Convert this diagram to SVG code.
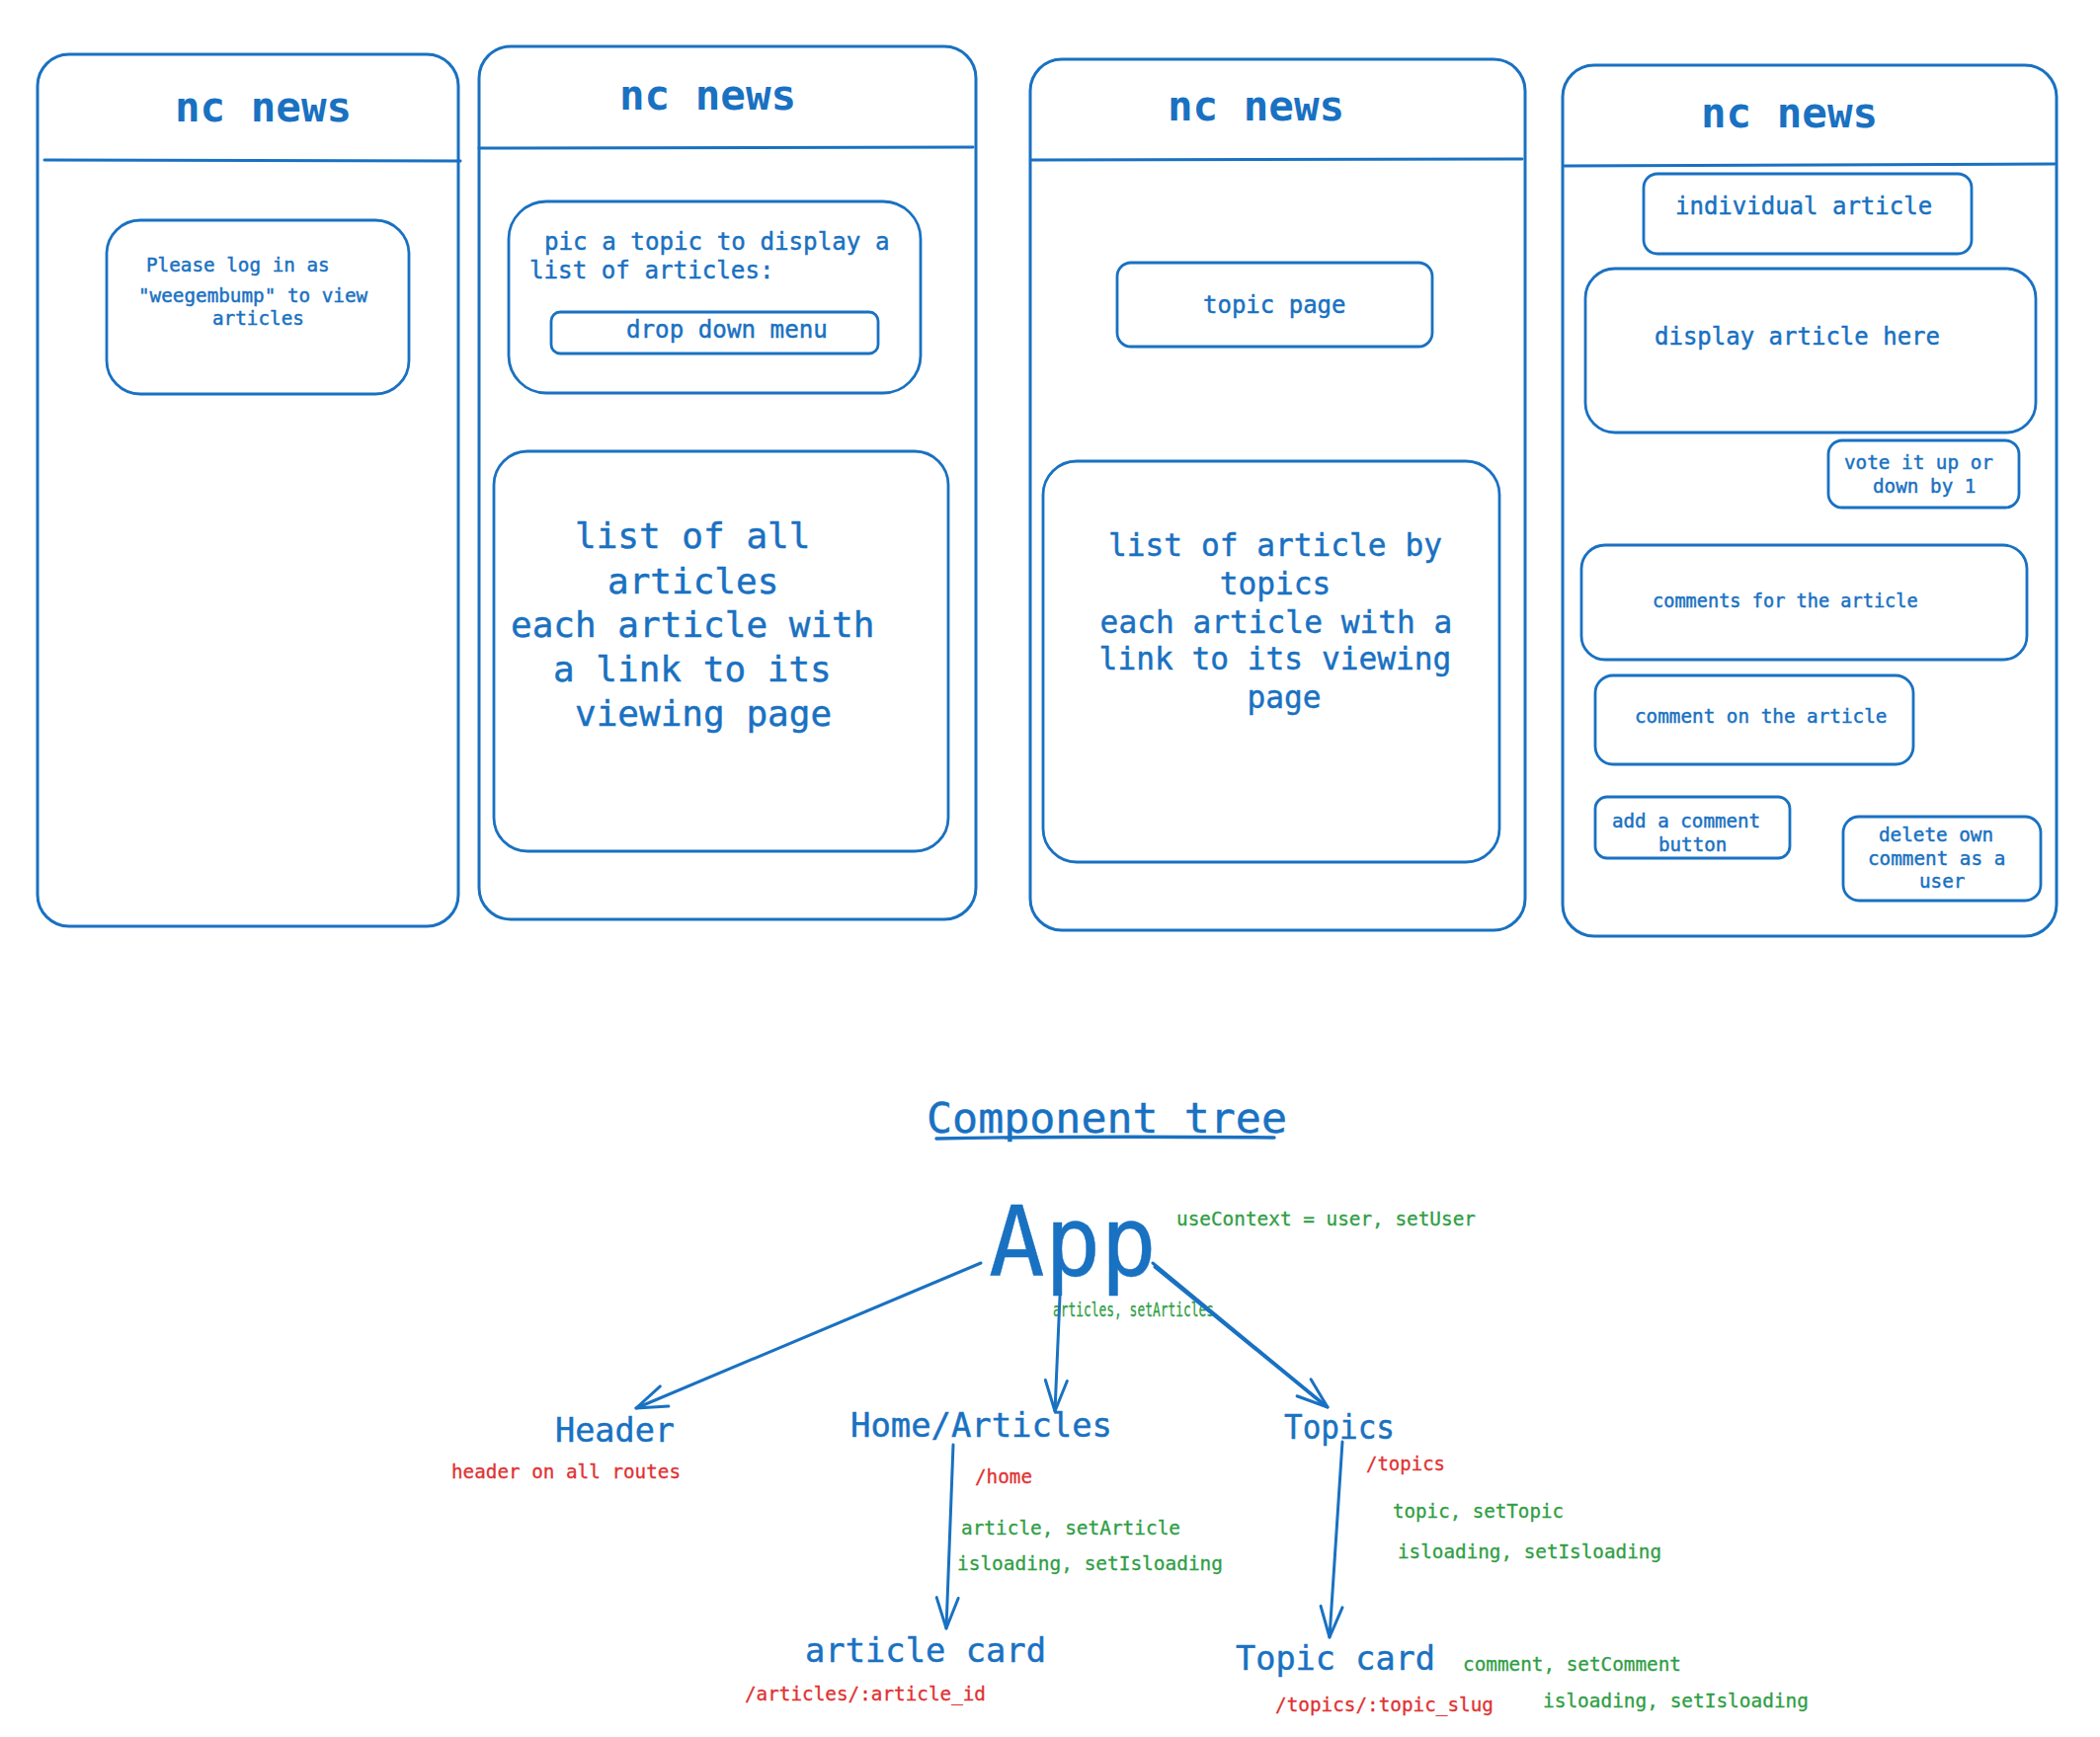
<svg xmlns="http://www.w3.org/2000/svg" width="2126" height="1759" viewBox="0 0 2126 1759">
<style>
.frame{fill:none;stroke:#1971c2;stroke-width:3;stroke-linecap:round;stroke-linejoin:round}
.box{fill:none;stroke:#1971c2;stroke-width:2.8;stroke-linecap:round;stroke-linejoin:round}
.t{font-family:"DejaVu Sans Mono","Liberation Mono",monospace;fill:#1971c2;stroke:#1971c2;stroke-width:0.45}
.title{font-family:"DejaVu Sans Mono","Liberation Mono",monospace;fill:#1971c2;font-size:42.5px;font-weight:bold}
.g{font-family:"DejaVu Sans Mono","Liberation Mono",monospace;fill:#2f9e44;font-size:19.3px;stroke:#2f9e44;stroke-width:0.3}
.r{font-family:"DejaVu Sans Mono","Liberation Mono",monospace;fill:#e03131;font-size:19.3px;stroke:#e03131;stroke-width:0.3}
.edge{fill:none;stroke:#1971c2;stroke-width:3;stroke-linecap:round}
</style>
<defs>
<marker id="arr" viewBox="-34 -14 38 28" refX="0" refY="0" markerWidth="38" markerHeight="28" markerUnits="userSpaceOnUse" orient="auto">
<path d="M-31,-11 L0,0 L-31,11" fill="none" stroke="#1971c2" stroke-width="3" stroke-linecap="round" stroke-linejoin="round"/>
</marker>
</defs>
<rect width="2126" height="1759" fill="#ffffff"/>

<g id="phone-login">
<rect class="frame" x="38" y="55" width="426" height="883" rx="32"/>
<path class="frame" d="M45,162 L466,163"/>
<text class="title" x="177" y="123">nc news</text>
<rect class="box" x="108" y="223" width="306" height="176" rx="34"/>
<text class="t" font-size="19.3" x="148" y="275">Please log in as</text>
<text class="t" font-size="19.3" x="140" y="306">"weegembump" to view</text>
<text class="t" font-size="19.3" x="215" y="329">articles</text>
</g>

<g id="phone-home">
<rect class="frame" x="485" y="47" width="503" height="884" rx="32"/>
<path class="frame" d="M485,150 L985,149"/>
<text class="title" x="627" y="111">nc news</text>
<rect class="box" x="515" y="204" width="417" height="194" rx="38"/>
<text class="t" font-size="24.2" x="551" y="253">pic a topic to display a</text>
<text class="t" font-size="24.2" x="536" y="282">list of articles:</text>
<rect class="box" x="558" y="316" width="331" height="42" rx="9"/>
<text class="t" font-size="24.2" x="634" y="342">drop down menu</text>
<rect class="box" x="500" y="457" width="460" height="405" rx="34"/>
<text class="t" font-size="36" x="582" y="555">list of all</text>
<text class="t" font-size="36" x="615" y="601">articles</text>
<text class="t" font-size="36" x="517" y="645">each article with</text>
<text class="t" font-size="36" x="560" y="690">a link to its</text>
<text class="t" font-size="36" x="582" y="735">viewing page</text>
</g>

<g id="phone-topics">
<rect class="frame" x="1043" y="60" width="501" height="882" rx="32"/>
<path class="frame" d="M1044,162 L1541,161"/>
<text class="title" x="1182" y="122">nc news</text>
<rect class="box" x="1131" y="266" width="319" height="85" rx="14"/>
<text class="t" font-size="24" x="1218" y="317">topic page</text>
<rect class="box" x="1056" y="467" width="462" height="406" rx="34"/>
<text class="t" font-size="31.2" text-anchor="middle" x="1291" y="563">list of article by</text>
<text class="t" font-size="31.2" text-anchor="middle" x="1291" y="602">topics</text>
<text class="t" font-size="31.2" text-anchor="middle" x="1292" y="641">each article with a</text>
<text class="t" font-size="31.2" text-anchor="middle" x="1291" y="678">link to its viewing</text>
<text class="t" font-size="31.2" text-anchor="middle" x="1300" y="717">page</text>
</g>

<g id="phone-article">
<rect class="frame" x="1582" y="66" width="500" height="882" rx="32"/>
<path class="frame" d="M1584,168 L2080,166"/>
<text class="title" x="1722" y="129">nc news</text>
<rect class="box" x="1664" y="176" width="332" height="81" rx="14"/>
<text class="t" font-size="24" x="1696" y="217">individual article</text>
<rect class="box" x="1605" y="272" width="456" height="166" rx="30"/>
<text class="t" font-size="24" x="1675" y="349">display article here</text>
<rect class="box" x="1851" y="446" width="193" height="68" rx="14"/>
<text class="t" font-size="19.3" x="1867" y="475">vote it up or</text>
<text class="t" font-size="19.3" x="1896" y="499">down by 1</text>
<rect class="box" x="1601" y="552" width="451" height="116" rx="24"/>
<text class="t" font-size="18.6" x="1673" y="615">comments for the article</text>
<rect class="box" x="1615" y="684" width="322" height="90" rx="18"/>
<text class="t" font-size="19.3" x="1655" y="732">comment on the article</text>
<rect class="box" x="1615" y="807" width="197" height="62" rx="12"/>
<text class="t" font-size="19.2" x="1632" y="838">add a comment</text>
<text class="t" font-size="19.2" x="1679" y="862">button</text>
<rect class="box" x="1866" y="827" width="200" height="85" rx="16"/>
<text class="t" font-size="19.3" x="1902" y="852">delete own</text>
<text class="t" font-size="19.3" x="1891" y="876">comment as a</text>
<text class="t" font-size="19.3" x="1943" y="899">user</text>
</g>

<g id="tree-title">
<text class="t" font-size="43" x="938" y="1147" textLength="365" lengthAdjust="spacingAndGlyphs">Component tree</text>
<path d="M948,1153 Q1100,1150 1290,1152" fill="none" stroke="#1971c2" stroke-width="3.4" stroke-linecap="round"/>
</g>

<g id="node-app">
<text class="t" font-size="98" x="1001" y="1292" textLength="170" lengthAdjust="spacingAndGlyphs">App</text>
<text class="g" x="1191" y="1241" textLength="303" lengthAdjust="spacingAndGlyphs">useContext = user, setUser</text>
<text class="g" font-size="13" x="1066" y="1333" textLength="163" lengthAdjust="spacingAndGlyphs">articles, setArticles</text>
</g>

<g id="node-header">
<text class="t" font-size="34" x="562" y="1460" textLength="121" lengthAdjust="spacingAndGlyphs">Header</text>
<text class="r" x="457" y="1497" textLength="232" lengthAdjust="spacingAndGlyphs">header on all routes</text>
</g>

<g id="node-home">
<text class="t" font-size="34" x="861" y="1455" textLength="265" lengthAdjust="spacingAndGlyphs">Home/Articles</text>
<text class="r" x="987" y="1502" textLength="58" lengthAdjust="spacingAndGlyphs">/home</text>
<text class="g" x="973" y="1554" textLength="222" lengthAdjust="spacingAndGlyphs">article, setArticle</text>
<text class="g" x="969" y="1590" textLength="269" lengthAdjust="spacingAndGlyphs">isloading, setIsloading</text>
</g>

<g id="node-topics">
<text class="t" font-size="34" x="1300" y="1457" textLength="112" lengthAdjust="spacingAndGlyphs">Topics</text>
<text class="r" x="1383" y="1489" textLength="80" lengthAdjust="spacingAndGlyphs">/topics</text>
<text class="g" x="1410" y="1537" textLength="173" lengthAdjust="spacingAndGlyphs">topic, setTopic</text>
<text class="g" x="1415" y="1578" textLength="267" lengthAdjust="spacingAndGlyphs">isloading, setIsloading</text>
</g>

<g id="node-article-card">
<text class="t" font-size="34" x="815" y="1683" textLength="244" lengthAdjust="spacingAndGlyphs">article card</text>
<text class="r" x="754" y="1722" textLength="244" lengthAdjust="spacingAndGlyphs">/articles/:article_id</text>
</g>

<g id="node-topic-card">
<text class="t" font-size="34" x="1251" y="1691" textLength="202" lengthAdjust="spacingAndGlyphs">Topic card</text>
<text class="g" x="1481" y="1692" textLength="221" lengthAdjust="spacingAndGlyphs">comment, setComment</text>
<text class="r" x="1291" y="1733" textLength="221" lengthAdjust="spacingAndGlyphs">/topics/:topic_slug</text>
<text class="g" x="1562" y="1729" textLength="269" lengthAdjust="spacingAndGlyphs">isloading, setIsloading</text>
</g>

<g id="connectors">
<path class="edge" d="M993,1279 L644,1426" marker-end="url(#arr)"/>
<path class="edge" d="M1073,1313 L1068,1429" marker-end="url(#arr)"/>
<path class="edge" d="M1167,1279 L1344,1425" marker-end="url(#arr)"/>
<path class="edge" d="M1169,1283 L1342,1424"/>
<path class="edge" d="M965,1463 L958,1649" marker-end="url(#arr)"/>
<path class="edge" d="M1359,1460 L1346,1658" marker-end="url(#arr)"/>
</g>
</svg>
